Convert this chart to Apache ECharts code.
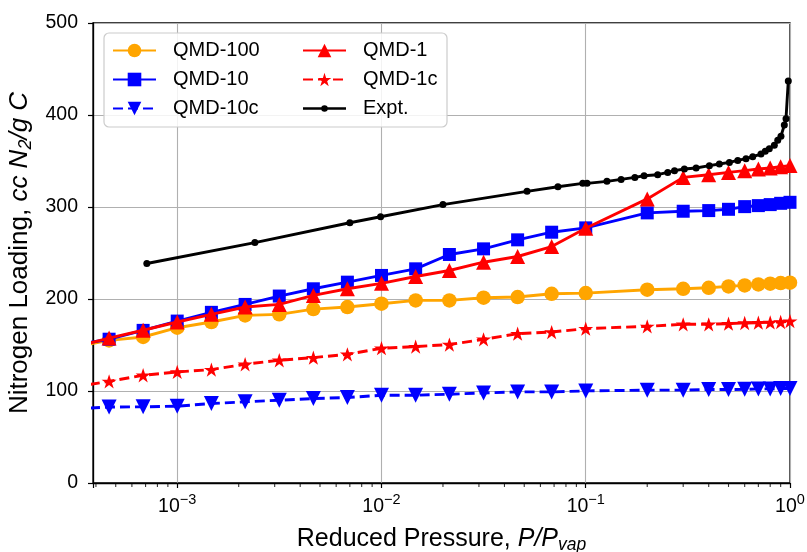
<!DOCTYPE html>
<html>
<head>
<meta charset="utf-8">
<script src="https://cdn.jsdelivr.net/npm/echarts@6/dist/echarts.min.js"></script>
<style>
html,body{margin:0;padding:0;background:#fff;}
#chart{width:807px;height:552px;}
</style>
</head>
<body>
<div id="chart"></div>
<script>
// ---- data ----
const pressure = [3.16e-4, 4.64e-4, 6.81e-4, 1e-3, 1.47e-3, 2.15e-3, 3.16e-3, 4.64e-3, 6.81e-3, 1e-2, 1.47e-2, 2.15e-2, 3.16e-2, 4.64e-2, 6.81e-2, 0.1, 0.2, 0.3, 0.4, 0.5, 0.6, 0.7, 0.8, 0.9, 1.0];
const qmd100 = [148, 155, 158.7, 168.8, 175, 182.2, 183.3, 189, 191.3, 194.9, 198.5, 198.5, 201.4, 202.1, 205.7, 206.4, 210.1, 211.1, 212.2, 213.7, 214.8, 215.8, 216.6, 217.3, 217.7];
const qmd10 = [150, 156.3, 165.9, 176, 185.5, 194.1, 203.2, 211.1, 218.3, 225.6, 232.8, 248.4, 254.5, 264.3, 272.6, 277.3, 293.6, 295.4, 296.1, 297.5, 300.4, 301.5, 302.6, 304, 305.1];
const qmd10c = [80.5, 82.6, 82.8, 83.5, 86.4, 88.2, 90, 91.8, 92.9, 95.4, 95.4, 96.5, 97.9, 99, 99, 100.1, 100.9, 100.9, 101.6, 101.6, 101.8, 102.3, 102.3, 102.7, 102.7];
const qmd1 = [148, 157.5, 166, 175, 183.3, 191.3, 194.1, 203.9, 211.1, 217, 224.5, 231, 240, 246.2, 257, 276.9, 308.8, 332.2, 335.1, 337.6, 339.5, 341.3, 342.4, 343.8, 345];
const qmd1c = [104.5, 110.5, 117.1, 120.7, 123.3, 129.1, 133.4, 136.3, 139.9, 146.5, 148.3, 150.5, 156.2, 162.3, 164.1, 167.8, 170.3, 172.5, 172.5, 173.2, 173.9, 174.3, 174.6, 175, 176];
const expPressure = [7.1e-4, 2.4e-3, 7.0e-3, 9.9e-3, 0.020, 0.0516, 0.0731, 0.0967, 0.1015, 0.127, 0.149, 0.174, 0.193, 0.225, 0.252, 0.272, 0.304, 0.347, 0.403, 0.451, 0.505, 0.555, 0.609, 0.657, 0.721, 0.757, 0.792, 0.838, 0.871, 0.903, 0.938, 0.956, 0.981];
const expLoading = [238.6, 261.3, 282.9, 289.4, 302.6, 317, 322, 325.7, 325.7, 327.9, 330, 332.2, 334, 335.1, 337.6, 339.5, 341.3, 342.4, 344.9, 346.7, 348.5, 350.6, 352.5, 354.7, 357.6, 360.5, 363.4, 367, 372.5, 377, 389, 396, 437];
const xMin = 3.87e-4, xMax = 1;
const yTicks = [0, 100, 200, 300, 400, 500];

// ---- helpers ----
const FONT = 'Liberation Sans';
const pair = (xs, ys) => xs.map((x, i) => [x, ys[i]]);
const minorTicks = [];
for (let k = -4; k <= -1; k++) {
  for (let m = 2; m <= 9; m++) {
    const v = m * Math.pow(10, k);
    if (v >= xMin && v < xMax) minorTicks.push([v, 0]);
  }
}
const STAR = 'path://M100,0 L122.45,69.1 L195.1,69.1 L136.3,111.8 L158.8,180.9 L100,138.2 L41.2,180.9 L63.7,111.8 L4.9,69.1 L77.55,69.1 Z';
// legend icon for the experiment: line + small dot inside a 43x17 box
const EXPT_ICON = 'path://M0,0 L0.01,0 L0.01,0.01 Z M43,17 L42.99,17 L42.99,16.99 Z ' +
  'M0,7.2 L43,7.2 L43,9.8 L0,9.8 Z ' +
  'M18.2,8.5 A3.3,3.3 0 1,1 24.8,8.5 A3.3,3.3 0 1,1 18.2,8.5 Z';
const LW = 2.9;

function lineSeries(name, data, color, symbol, size, dashed, extra) {
  return Object.assign({
    type: 'line', name: name, data: data,
    symbol: symbol, symbolSize: size, showSymbol: true,
    clip: true,
    lineStyle: { color: color, width: LW, type: dashed ? [10, 5] : 'solid' },
    itemStyle: { color: color, borderWidth: 0 },
    emphasis: { disabled: true },
    animation: false
  }, extra || {});
}

const chart = echarts.init(document.getElementById('chart'), null, { renderer: 'canvas' });
const legendText = { fontSize: 20, fontFamily: FONT, color: '#000', lineHeight: 17, padding: [0, 0, 0, 12] };
const legendCommon = {
  orient: 'vertical', top: 40.5, itemWidth: 43, itemHeight: 17, itemGap: 9,
  padding: 0, selectedMode: false, z: 6, textStyle: legendText
};

chart.setOption({
  animation: false,
  backgroundColor: '#fff',
  grid: { left: 93, right: 17, top: 23, bottom: 69, show: true, borderColor: '#000', borderWidth: 1.3,
          backgroundColor: 'transparent', containLabel: false, outerBoundsMode: 'none' },
  graphic: [{
    type: 'rect', z: 5, silent: true,
    shape: { x: 104, y: 33, width: 343, height: 94, r: 5 },
    style: { fill: 'rgba(255,255,255,0.85)', stroke: '#cccccc', lineWidth: 1.2 }
  }],
  legend: [
    Object.assign({ left: 112, data: ['QMD-100', 'QMD-10', 'QMD-10c'] }, legendCommon),
    Object.assign({ left: 302, data: ['QMD-1', 'QMD-1c', { name: 'Expt.', icon: EXPT_ICON }] }, legendCommon)
  ],
  xAxis: {
    type: 'log', logBase: 10, min: xMin, max: xMax,
    name: '{n|Reduced Pressure, }{i|P/P}{sub|vap}',
    nameLocation: 'middle', nameGap: 41,
    nameTextStyle: {
      rich: {
        n: { fontSize: 25, fontFamily: FONT, color: '#000', lineHeight: 30 },
        i: { fontSize: 25, fontFamily: FONT, fontStyle: 'italic', color: '#000', lineHeight: 30 },
        sub: { fontSize: 17.5, fontFamily: FONT, fontStyle: 'italic', color: '#000', lineHeight: 17, verticalAlign: 'bottom' }
      }
    },
    axisLine: { show: true, onZero: false, lineStyle: { color: '#000', width: 1.3 } },
    axisTick: { show: true, length: 5, lineStyle: { color: '#000', width: 1.2 } },
    splitLine: { show: true, lineStyle: { color: '#b0b0b0', width: 1.1 } },
    minorTick: { show: false }, minorSplitLine: { show: false },
    axisLabel: {
      margin: 9,
      showMinLabel: true, showMaxLabel: true, hideOverlap: false,
      formatter: function (v) {
        const e = Math.log10(v);
        if (Math.abs(e - Math.round(e)) > 1e-6) return '';
        const r = Math.round(e);
        return '{b|10}{s|' + (r < 0 ? '\u2212' + (-r) : r) + '}';
      },
      rich: {
        b: { fontSize: 19.5, fontFamily: FONT, color: '#000', lineHeight: 30 },
        s: { fontSize: 14.5, fontFamily: FONT, color: '#000', lineHeight: 14, verticalAlign: 'top' }
      }
    }
  },
  yAxis: {
    type: 'value', min: 0, max: 500, interval: 100,
    name: '{n|Nitrogen Loading, }{i|cc N}{sub|2}{i|/g C}',
    nameLocation: 'middle', nameGap: 55, nameRotate: 90,
    nameTextStyle: {
      rich: {
        n: { fontSize: 26, fontFamily: FONT, color: '#000', lineHeight: 30 },
        i: { fontSize: 26, fontFamily: FONT, fontStyle: 'italic', color: '#000', lineHeight: 30 },
        sub: { fontSize: 18, fontFamily: FONT, fontStyle: 'italic', color: '#000', lineHeight: 17, verticalAlign: 'bottom' }
      }
    },
    axisLine: { show: true, lineStyle: { color: '#000', width: 1.3 } },
    axisTick: { show: true, length: 5, lineStyle: { color: '#000', width: 1.2 } },
    splitLine: { show: true, lineStyle: { color: '#b0b0b0', width: 1.1 } },
    axisLabel: {
      margin: 15, fontSize: 19.5, fontFamily: FONT, color: '#000',
      formatter: function (v) { return yTicks.indexOf(v) >= 0 ? String(v) : ''; }
    }
  },
  series: [
    lineSeries('QMD-100', pair(pressure, qmd100), '#ffa500', 'circle', 14.5, false, { z: 2 }),
    lineSeries('QMD-10', pair(pressure, qmd10), '#0000ff', 'rect', 13, false, { z: 3 }),
    lineSeries('QMD-10c', pair(pressure, qmd10c), '#0000ff', 'triangle', 15, true, { z: 3, symbolRotate: 180 }),
    lineSeries('QMD-1', pair(pressure, qmd1), '#ff0000', 'triangle', 15, false, { z: 4 }),
    lineSeries('QMD-1c', pair(pressure, qmd1c), '#ff0000', STAR, [15, 14.3], true, { z: 4 }),
    lineSeries('Expt.', pair(expPressure, expLoading), '#000000', 'circle', 7, false, { z: 4 }),
    {
      type: 'scatter', name: 'minor', data: minorTicks, symbol: 'rect',
      symbolSize: [1.1, 3.5], symbolOffset: [0, 2.2], clip: false, silent: true,
      itemStyle: { color: '#000' }, z: 1, animation: false, legendHoverLink: false
    }
  ]
});
</script>
</body>
</html>
